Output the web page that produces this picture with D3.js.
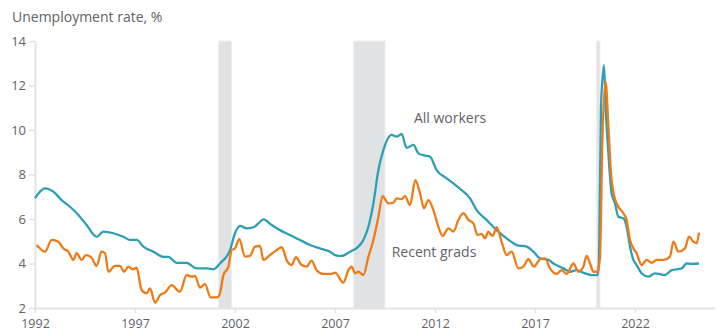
<!DOCTYPE html>
<html><head><meta charset="utf-8">
<script src="https://cdn.jsdelivr.net/npm/d3@7"></script>
<style>
body{margin:0;background:#fff}
svg text{font-family:"Open Sans","Noto Sans",sans-serif}
</style>
</head><body>
<svg id="chart" width="717" height="336"></svg>
<script>
// ---- data ----
const allYears = [1992.00,1992.17,1992.50,1992.92,1993.33,1993.75,1994.17,1994.58,1995.08,1995.42,1995.92,1996.42,1996.75,1997.08,1997.42,1997.92,1998.42,1998.67,1999.08,1999.58,2000.08,2000.58,2000.92,2001.25,2001.75,2002.00,2002.25,2002.58,2002.92,2003.17,2003.42,2003.83,2004.25,2004.75,2005.25,2005.75,2006.25,2006.75,2007.00,2007.33,2007.75,2008.17,2008.42,2008.67,2008.92,2009.17,2009.42,2009.83,2010.08,2010.33,2010.58,2010.92,2011.17,2011.50,2011.75,2012.08,2012.58,2012.92,2013.33,2013.75,2014.08,2014.58,2015.08,2015.58,2016.08,2016.58,2016.92,2017.25,2017.67,2017.92,2018.42,2018.75,2019.08,2019.50,2019.83,2020.13,2020.20,2020.30,2020.45,2020.53,2020.67,2020.83,2021.00,2021.17,2021.42,2021.58,2021.75,2021.92,2022.08,2022.33,2022.67,2023.00,2023.50,2023.83,2024.33,2024.58,2024.83,2025.20];
const allRates = [6.93,7.15,7.38,7.23,6.85,6.55,6.18,5.73,5.20,5.43,5.36,5.20,5.06,5.06,4.76,4.53,4.30,4.30,4.03,4.03,3.78,3.78,3.74,4.00,4.60,5.36,5.69,5.58,5.63,5.80,5.98,5.73,5.50,5.28,5.06,4.83,4.68,4.53,4.38,4.34,4.53,4.76,5.06,5.65,6.70,8.20,9.10,9.78,9.70,9.82,9.20,9.33,8.95,8.85,8.80,8.20,7.83,7.60,7.30,6.93,6.40,5.96,5.50,5.13,4.83,4.76,4.53,4.23,4.16,4.00,3.78,3.63,3.70,3.56,3.48,3.48,4.16,11.05,12.92,11.05,8.95,7.15,6.70,6.10,6.03,5.65,4.76,4.16,3.93,3.56,3.41,3.56,3.48,3.70,3.78,4.00,3.98,4.00];

const gradYears = [1992.08,1992.17,1992.50,1992.83,1993.17,1993.42,1993.67,1993.92,1994.08,1994.33,1994.55,1994.83,1995.08,1995.33,1995.50,1995.67,1996.00,1996.25,1996.45,1996.67,1996.88,1997.08,1997.33,1997.58,1997.75,1998.00,1998.25,1998.50,1998.83,1999.25,1999.58,1999.83,2000.00,2000.25,2000.50,2000.78,2001.12,2001.25,2001.42,2001.67,2001.83,2002.00,2002.22,2002.50,2002.75,2003.00,2003.25,2003.42,2003.75,2004.08,2004.33,2004.62,2004.83,2005.05,2005.33,2005.58,2005.83,2006.08,2006.42,2006.83,2007.00,2007.42,2007.67,2007.83,2008.00,2008.17,2008.42,2008.67,2008.92,2009.17,2009.38,2009.67,2009.92,2010.08,2010.33,2010.50,2010.75,2011.02,2011.25,2011.45,2011.67,2011.92,2012.17,2012.38,2012.67,2012.92,2013.17,2013.42,2013.67,2013.92,2014.12,2014.33,2014.50,2014.67,2014.88,2015.08,2015.33,2015.58,2015.83,2016.17,2016.42,2016.67,2016.95,2017.25,2017.50,2017.75,2018.08,2018.33,2018.58,2018.92,2019.17,2019.42,2019.58,2019.75,2019.92,2020.12,2020.25,2020.37,2020.53,2020.67,2020.80,2020.97,2021.17,2021.42,2021.58,2021.75,2021.92,2022.08,2022.33,2022.58,2022.83,2023.08,2023.42,2023.75,2023.92,2024.17,2024.50,2024.70,2024.92,2025.08,2025.20];
const gradRates = [4.83,4.75,4.53,5.06,4.98,4.68,4.53,4.16,4.46,4.16,4.38,4.26,3.89,4.53,4.46,3.63,3.89,3.89,3.63,3.86,3.74,3.81,2.81,2.66,2.88,2.24,2.58,2.69,3.03,2.73,3.48,3.41,3.44,2.92,3.07,2.48,2.48,2.66,3.48,3.86,4.60,4.68,5.09,4.31,4.34,4.76,4.79,4.16,4.38,4.60,4.73,4.08,3.93,4.28,3.93,3.86,4.13,3.70,3.53,3.53,3.59,3.14,3.70,3.86,3.56,3.63,3.48,4.31,5.06,6.10,7.03,6.70,6.73,6.93,6.89,7.03,6.63,7.75,7.15,6.48,6.85,6.40,5.65,5.24,5.58,5.43,5.96,6.26,5.96,5.80,5.28,5.33,5.13,5.43,5.24,5.63,4.98,4.38,4.53,3.78,3.86,4.19,3.86,4.19,4.23,3.78,3.53,3.70,3.53,4.00,3.63,3.86,4.34,4.00,3.63,3.63,4.31,9.55,12.17,10.15,8.05,7.00,6.55,6.26,5.96,5.06,4.68,4.46,3.93,4.16,4.03,4.16,4.16,4.31,4.98,4.53,4.68,5.21,4.98,4.91,5.39];

const recessionStarts = [2001.17, 2007.92, 2020.08];
const recessionEnds   = [2001.83, 2009.50, 2020.25];

const yTicks = [2,4,6,8,10,12,14];
const xTicks = [1992,1997,2002,2007,2012,2017,2022];

const titleText = "Unemployment rate, %";
const seriesNames = ["All workers","Recent grads"];

// ---- drawing ----
const svg = d3.select("#chart");
const x = d3.scaleLinear().domain([1992,2026]).range([35,715]);
const y = d3.scaleLinear().domain([2,14]).range([308,41]);
const textCol = "#606368", axisCol = "#e2e3e5";
const teal = "#2c9fb6", orange = "#ee7b16";

// recessions
svg.append("g").selectAll("rect").data(recessionStarts).join("rect")
  .attr("x", d => x(d))
  .attr("width", (d,i) => x(recessionEnds[i]) - x(d))
  .attr("y", y(14)).attr("height", y(2) - y(14))
  .attr("fill", "#e1e2e4").attr("stroke","#eeeff0").attr("stroke-width",1);

// y axis
const ya = svg.append("g").attr("transform","translate(35,0)")
  .call(d3.axisLeft(y).tickValues(yTicks).tickSize(6).tickPadding(3).tickSizeOuter(0));
ya.select(".domain").attr("stroke", axisCol).attr("stroke-width", 2);
ya.selectAll(".tick line").attr("stroke", axisCol).attr("stroke-width",1.5);
ya.selectAll("text").attr("fill", textCol).attr("font-size", 13);

// x axis
const xa = svg.append("g").attr("transform","translate(0,308)")
  .call(d3.axisBottom(x).tickValues(xTicks).tickFormat(d3.format("d")).tickSize(5).tickPadding(6).tickSizeOuter(0));
xa.select(".domain").attr("stroke", axisCol).attr("stroke-width", 2);
xa.selectAll(".tick line").attr("stroke", axisCol).attr("stroke-width",1.5);
xa.selectAll("text").attr("fill", textCol).attr("font-size", 12.5);

// lines
const line = d3.line().x(d => x(d[0])).y(d => y(d[1])).curve(d3.curveMonotoneX);
const allData = allYears.map((t,i) => [t, allRates[i]]);
const gradData = gradYears.map((t,i) => [t, gradRates[i]]);
svg.append("path").datum(allData).attr("d", line)
  .attr("fill","none").attr("stroke",teal).attr("stroke-width",2.3).attr("stroke-linejoin","round");
svg.append("path").datum(gradData).attr("d", line)
  .attr("fill","none").attr("stroke",orange).attr("stroke-width",2.3).attr("stroke-linejoin","round");

// labels
svg.append("text").attr("x", x(2012.75)).attr("y", y(10.3)).attr("text-anchor","middle")
  .attr("fill", textCol).attr("font-size", 14).text(seriesNames[0]);
svg.append("text").attr("x", x(2011.95)).attr("y", y(4.3)).attr("text-anchor","middle")
  .attr("fill", textCol).attr("font-size", 14).text(seriesNames[1]);

svg.append("text").attr("x", 12).attr("y", 22).attr("fill", textCol).attr("font-size", 14).text(titleText);
</script>
</body></html>
